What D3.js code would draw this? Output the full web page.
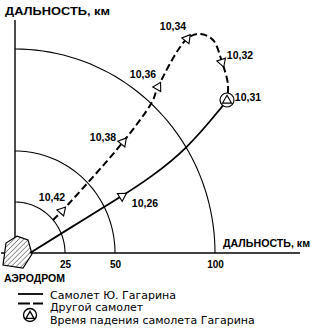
<!DOCTYPE html>
<html>
<head>
<meta charset="utf-8">
<script src="https://cdn.jsdelivr.net/npm/d3@7"></script>
<style>
  body { margin: 0; background: #fff; }
  svg { display: block; font-family: "Liberation Sans", Arial, sans-serif; }
</style>
</head>
<body>
<svg id="chart" width="315" height="328"></svg>
<script>
// data (km from the aerodrome)
var rings = [25, 50, 100];
var tickLabels = ["25", "50", "100"];
var gagarinX = [7.5, 34, 53.5, 67.5, 86, 103.5, 106];
var gagarinY = [0, 16.2, 27.9, 36.8, 51, 71.6, 75];
var otherX = [19, 23.5, 54, 68.5, 71.5, 86, 92.5, 99, 103.5, 106.5, 106];
var otherY = [16.2, 20.6, 54.4, 74, 81.4, 105, 107.4, 104.4, 93.6, 82.4, 75];
var gagarinTimes = ["10,26"];
var gagarinMarkIdx = [2];
var otherTimes = ["10,42", "10,38", "10,36", "10,34", "10,32"];
var otherMarkIdx = [1, 2, 4, 5, 8];
var crashTime = "10,31";
var legendLabels = ["Самолет Ю. Гагарина", "Другой самолет", "Время падения самолета Гагарина"];
var axisTitle = "ДАЛЬНОСТЬ, км";
var airfieldLabel = "АЭРОДРОМ";
// airfield outline, km
var airfieldX = [1, 6.5, 8.5, 4, -6, -4.5];
var airfieldY = [8.3, 6.4, -0.5, -7.4, -5.9, 4.9];

var svg = d3.select("#chart");
var x = d3.scaleLinear().domain([0, 100]).range([15, 215]);
var y = d3.scaleLinear().domain([0, 100]).range([253, 49]);

var defs = svg.append("defs");
defs.append("pattern")
    .attr("id", "hatch")
    .attr("patternUnits", "userSpaceOnUse")
    .attr("width", 3.5).attr("height", 3.5)
    .attr("patternTransform", "rotate(45)")
  .append("line")
    .attr("x1", 0).attr("y1", 0).attr("x2", 0).attr("y2", 3.5)
    .attr("stroke", "#000").attr("stroke-width", 0.8);

// range rings
var line = d3.line();
rings.forEach(function(r) {
  var pts = d3.range(0, 91, 2).map(function(a) {
    var t = a * Math.PI / 180;
    return [x(r * Math.cos(t)), y(r * Math.sin(t))];
  });
  svg.append("path").attr("d", line(pts))
    .attr("fill", "none").attr("stroke", "#000").attr("stroke-width", 1.1);
});

// axes
svg.append("line").attr("x1", x(-7)).attr("x2", 300).attr("y1", y(0)).attr("y2", y(0))
  .attr("stroke", "#000").attr("stroke-width", 1.4);
svg.append("line").attr("x1", x(0)).attr("x2", x(0)).attr("y1", 20).attr("y2", y(-6))
  .attr("stroke", "#000").attr("stroke-width", 1.4);

var xAxis = d3.axisBottom(x).tickValues(rings)
  .tickFormat(function(d, i) { return tickLabels[i]; })
  .tickSize(0).tickPadding(8);
var gx = svg.append("g").attr("transform", "translate(0," + y(0) + ")").call(xAxis);
gx.select(".domain").remove();
gx.selectAll("text").attr("font-size", 10).attr("font-weight", "bold")
  .attr("font-family", "Liberation Sans, Arial, sans-serif");

svg.append("text").attr("x", 5).attr("y", 15).text(axisTitle)
  .attr("font-size", 11.5).attr("font-weight", "bold")
  .attr("textLength", 105).attr("lengthAdjust", "spacingAndGlyphs");
svg.append("text").attr("x", 223).attr("y", 247).text(axisTitle)
  .attr("font-size", 10.2).attr("font-weight", "bold")
  .attr("textLength", 87).attr("lengthAdjust", "spacingAndGlyphs");

// airfield
var hexPts = airfieldX.map(function(d, i) { return [x(d), y(airfieldY[i])]; });
svg.append("path").attr("d", line(hexPts) + "Z")
  .attr("fill", "#fff").attr("stroke", "none");
svg.append("path").attr("d", line(hexPts) + "Z")
  .attr("fill", "url(#hatch)").attr("stroke", "#000").attr("stroke-width", 1.2);
svg.append("text").attr("x", 4).attr("y", 282).text(airfieldLabel)
  .attr("font-size", 10).attr("font-weight", "bold")
  .attr("textLength", 61).attr("lengthAdjust", "spacingAndGlyphs");

// routes
var gPts = gagarinX.map(function(d, i) { return [x(d), y(gagarinY[i])]; });
var oPts = otherX.map(function(d, i) { return [x(d), y(otherY[i])]; });
svg.append("path").attr("d", d3.line().curve(d3.curveBasis)(gPts))
  .attr("fill", "none").attr("stroke", "#000").attr("stroke-width", 1.8);
svg.append("path").attr("d", d3.line().curve(d3.curveCatmullRom.alpha(0.5))(oPts))
  .attr("fill", "none").attr("stroke", "#000").attr("stroke-width", 2)
  .attr("stroke-dasharray", "7,3.5");

var tri = d3.symbol().type(d3.symbolTriangle).size(36);
function angleAt(pts, i) {
  var a = pts[Math.max(i - 1, 0)], b = pts[Math.min(i + 1, pts.length - 1)];
  return Math.atan2(b[1] - a[1], b[0] - a[0]) * 180 / Math.PI;
}
function marks(pts, idx, times, offs) {
  idx.forEach(function(k, j) {
    var p = pts[k];
    svg.append("path").attr("d", tri)
      .attr("transform", "translate(" + p[0] + "," + p[1] + ") rotate(" + (angleAt(pts, k) + 90) + ")")
      .attr("fill", "#fff").attr("stroke", "#000").attr("stroke-width", 1.1);
    svg.append("text").attr("x", p[0] + offs[j][0]).attr("y", p[1] + offs[j][1])
      .attr("text-anchor", "middle").attr("dy", "0.35em")
      .attr("font-size", 10.5).attr("font-weight", "bold").text(times[j]);
  });
}
marks(gPts, gagarinMarkIdx, gagarinTimes, [[23, 7]]);
marks(oPts, otherMarkIdx, otherTimes, [[-10, -14], [-20, -5], [-15, -13], [-14, -12], [18, -7]]);

var end = gPts[gPts.length - 1];
svg.append("circle").attr("cx", end[0]).attr("cy", end[1]).attr("r", 7)
  .attr("fill", "#fff").attr("stroke", "#000").attr("stroke-width", 1.2);
svg.append("path").attr("d", tri).attr("transform", "translate(" + end[0] + "," + (end[1] + 0.5) + ")")
  .attr("fill", "#fff").attr("stroke", "#000").attr("stroke-width", 1.1);
svg.append("text").attr("x", end[0] + 21).attr("y", end[1] - 3).attr("dy", "0.35em")
  .attr("text-anchor", "middle").attr("font-size", 10.5).attr("font-weight", "bold").text(crashTime);

// legend
var lg = svg.append("g");
lg.append("line").attr("x1", 18).attr("x2", 43).attr("y1", 294).attr("y2", 294)
  .attr("stroke", "#000").attr("stroke-width", 1.8);
lg.append("line").attr("x1", 18).attr("x2", 43).attr("y1", 303.5).attr("y2", 303.5)
  .attr("stroke", "#000").attr("stroke-width", 1.8).attr("stroke-dasharray", "12,3");
lg.append("circle").attr("cx", 30).attr("cy", 315).attr("r", 6.5)
  .attr("fill", "#fff").attr("stroke", "#000").attr("stroke-width", 1.4);
lg.append("path").attr("d", d3.symbol().type(d3.symbolTriangle).size(28))
  .attr("transform", "translate(30,316)")
  .attr("fill", "#fff").attr("stroke", "#000").attr("stroke-width", 1.3);
lg.selectAll("text").data(legendLabels).enter().append("text")
  .attr("x", 50).attr("y", function(d, i) { return 298.5 + i * 12.5; })
  .attr("font-family", "DejaVu Sans, sans-serif")
  .attr("font-size", 11).text(function(d) { return d; });
</script>
</body>
</html>
